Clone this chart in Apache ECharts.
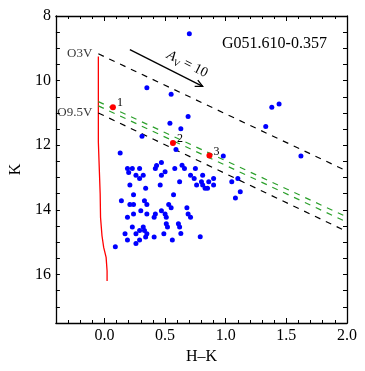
<!DOCTYPE html>
<html>
<head>
<meta charset="utf-8">
<title>G051.610-0.357</title>
<script src="https://cdn.jsdelivr.net/npm/echarts@6.0.0/dist/echarts.min.js"></script>
<style>
  html, body { margin: 0; padding: 0; background: #fff; }
  #chart { width: 365px; height: 371px; }
</style>
</head>
<body>
<div id="chart"></div>
<script>
// field stars, [H-K, K]
const fieldStars = [
  [0.70, 8.55], [0.35, 10.22], [0.55, 10.42], [0.69, 11.11], [0.54, 11.32],
  [0.63, 11.49], [0.31, 11.72], [1.38, 10.82], [1.44, 10.72], [1.33, 11.42],
  [1.62, 12.33], [0.13, 12.24], [0.59, 12.13], [0.98, 12.33], [0.19, 12.72],
  [0.23, 12.72], [0.29, 12.72], [0.20, 12.84], [0.26, 12.93], [0.32, 12.93],
  [0.29, 13.03], [0.43, 12.63], [0.42, 12.72], [0.47, 12.53], [0.50, 12.82],
  [0.47, 12.93], [0.58, 12.72], [0.21, 13.23], [0.34, 13.33], [0.46, 13.23],
  [0.24, 13.53], [0.57, 13.53], [0.14, 13.72], [0.33, 13.72], [0.21, 13.83],
  [0.24, 13.83], [0.35, 13.83], [0.53, 13.83], [0.55, 13.93], [0.30, 14.03],
  [0.35, 14.13], [0.24, 14.13], [0.19, 14.23], [0.47, 14.03], [0.50, 14.13],
  [0.42, 14.13], [0.41, 14.23], [0.51, 14.23], [0.61, 14.43], [0.51, 14.43],
  [0.52, 14.53], [0.23, 14.53], [0.32, 14.53], [0.29, 14.64], [0.33, 14.64],
  [0.35, 14.74], [0.34, 14.84], [0.17, 14.74], [0.26, 14.74], [0.19, 14.93],
  [0.29, 14.93], [0.26, 15.04], [0.41, 14.84], [0.49, 14.74], [0.56, 14.93],
  [0.09, 15.14], [1.08, 13.63], [0.68, 13.93], [0.69, 14.13], [0.71, 14.23],
  [0.62, 14.53], [0.63, 14.73], [0.79, 14.83], [0.64, 12.62], [0.66, 12.72],
  [0.75, 12.72], [0.71, 12.93], [0.74, 13.03], [0.81, 12.93], [0.80, 13.13],
  [0.81, 13.23], [0.83, 13.33], [0.85, 13.33], [0.86, 13.13], [0.90, 13.03],
  [0.90, 13.23], [0.76, 13.23], [0.62, 13.13], [1.05, 13.13], [1.10, 13.03],
  [1.12, 13.44]
];

// numbered sources
const redStars = [[0.07, 10.82], [0.565, 11.93], [0.866, 12.32]];
const redNames = ['1', '2', '3'];

// main sequence track
const msTrack = [
  [-0.05, 9.25], [-0.05, 11.90], [-0.042, 11.93], [-0.035, 13.5], [-0.032, 14.23],
  [-0.02, 14.8], [-0.006, 15.16], [0.014, 15.47], [0.022, 15.89], [0.022, 16.2]
];

// reddening lines
const o3vLine = [[-0.05, 9.17], [2.0, 12.80]];
const o95vLine = [[-0.05, 11.0], [2.0, 14.67]];
const greenLineA = [[-0.05, 10.65], [2.0, 14.22]];
const greenLineB = [[-0.05, 10.78], [2.0, 14.38]];
const lineNames = ['O3V', 'O9.5V'];

// A_V = 10 vector: x0, y0, x1, y1
const avArrow = [0.21, 9.04, 0.81, 10.18];

const xLabelTicks = [0, 0.5, 1, 1.5, 2];
const yLabelTicks = [8, 10, 12, 14, 16];

const serif = 'Liberation Serif';
const axisLine = { onZero: false, lineStyle: { color: '#000', width: 1.3 } };

function xAxisPair(pos, withLabel) {
  return [
    {
      type: 'value', min: -0.4, max: 2.0, position: pos,
      axisLine: axisLine,
      splitLine: { show: false },
      axisTick: { inside: true, length: 5, customValues: xLabelTicks, lineStyle: { color: '#000' } },
      axisLabel: withLabel
        ? { customValues: xLabelTicks, formatter: (v) => v.toFixed(1), color: '#000', fontFamily: serif, fontSize: 16, margin: 5 }
        : { show: false },
      name: withLabel ? 'H\u2013K' : '',
      nameLocation: 'middle',
      nameGap: 24,
      nameTextStyle: { color: '#000', fontFamily: serif, fontSize: 16 },
    },
    {
      type: 'value', min: -0.4, max: 2.0, interval: 0.1, position: pos,
      axisLine: { show: false, onZero: false },
      splitLine: { show: false },
      axisTick: { inside: true, length: 3, lineStyle: { color: '#000' } },
      axisLabel: { show: false },
    },
  ];
}

function yAxisSide(pos, withLabel) {
  return {
    type: 'value', min: 8, max: 17.5, interval: 0.5, inverse: true, position: pos,
    axisLine: axisLine,
    splitLine: { show: false },
    axisTick: { inside: true, length: 4, lineStyle: { color: '#000' } },
    axisLabel: withLabel
      ? { customValues: yLabelTicks, color: '#000', fontFamily: serif, fontSize: 16, margin: 5 }
      : { show: false },
    name: withLabel ? 'K' : '',
    nameLocation: 'middle',
    nameGap: 30,
    nameTextStyle: { color: '#000', fontFamily: serif, fontSize: 16 },
  };
}

function dashed(data, color) {
  return {
    type: 'line', data: data, symbol: 'none', silent: true, z: 2,
    lineStyle: { color: color, width: 1.2, type: [6, 6] },
  };
}

const chart = echarts.init(document.getElementById('chart'));
chart.setOption({
  animation: false,
  backgroundColor: '#fff',
  title: {
    text: 'G051.610-0.357',
    left: 222, top: 36, padding: 0,
    textStyle: { fontFamily: serif, fontSize: 16, fontWeight: 'normal', color: '#000' },
  },
  grid: { left: 49, right: 18, top: 16, bottom: 48 },
  xAxis: [...xAxisPair('bottom', true), ...xAxisPair('top', false)],
  yAxis: [yAxisSide('left', true), yAxisSide('right', false)],
  series: [
    {
      type: 'line', data: msTrack, symbol: 'none', silent: true, z: 2,
      lineStyle: { color: '#ff0000', width: 1.3 },
    },
    dashed(o3vLine, '#000'),
    dashed(o95vLine, '#000'),
    dashed(greenLineA, '#2ca02c'),
    dashed(greenLineB, '#2ca02c'),
    {
      type: 'scatter', symbolSize: 0, silent: true,
      data: [o3vLine[0], o95vLine[0]].map((p, i) => ({ value: p, name: lineNames[i] })),
      label: {
        show: true, position: 'left', distance: 6, formatter: '{b}',
        color: '#000', fontFamily: serif, fontSize: 13,
      },
    },
    {
      type: 'scatter', data: fieldStars, symbolSize: 5, z: 4,
      itemStyle: { color: '#0000ff', opacity: 1 },
    },
    {
      type: 'scatter', symbolSize: 6, z: 5,
      data: redStars.map((p, i) => ({ value: p, name: redNames[i] })),
      itemStyle: { color: '#ff0000', opacity: 1 },
      label: {
        show: true, position: 'right', distance: 1, offset: [0, -4], formatter: '{b}',
        color: '#000', fontFamily: serif, fontSize: 12,
      },
    },
    {
      type: 'custom', data: [avArrow], silent: true, z: 6,
      renderItem: (params, api) => {
        const p0 = api.coord([api.value(0), api.value(1)]);
        const p1 = api.coord([api.value(2), api.value(3)]);
        const ang = Math.atan2(p1[1] - p0[1], p1[0] - p0[0]);
        const ux = Math.cos(ang), uy = Math.sin(ang);
        const head = 8, spread = 0.45;
        const h1 = [p1[0] - head * Math.cos(ang - spread), p1[1] - head * Math.sin(ang - spread)];
        const h2 = [p1[0] - head * Math.cos(ang + spread), p1[1] - head * Math.sin(ang + spread)];
        const tx = (p0[0] + p1[0]) / 2 + 17 * ux + 13 * uy;
        const ty = (p0[1] + p1[1]) / 2 + 17 * uy - 13 * ux;
        const stroke = { stroke: '#000', lineWidth: 1.3, fill: null };
        return {
          type: 'group',
          children: [
            { type: 'polyline', shape: { points: [p0, p1] }, style: stroke },
            { type: 'polyline', shape: { points: [h1, p1, h2] }, style: stroke },
            {
              type: 'text', x: tx, y: ty, rotation: -ang,
              style: {
                text: '{i|A}{s|V}{r| = 10}',
                align: 'center', verticalAlign: 'middle',
                rich: {
                  i: { fontFamily: serif, fontStyle: 'italic', fontSize: 14, lineHeight: 18, verticalAlign: 'middle', fill: '#000' },
                  s: { fontFamily: serif, fontSize: 9, lineHeight: 18, verticalAlign: 'bottom', fill: '#000' },
                  r: { fontFamily: serif, fontSize: 14, lineHeight: 18, verticalAlign: 'middle', fill: '#000' },
                },
              },
            },
          ],
        };
      },
    },
  ],
});
</script>
</body>
</html>
